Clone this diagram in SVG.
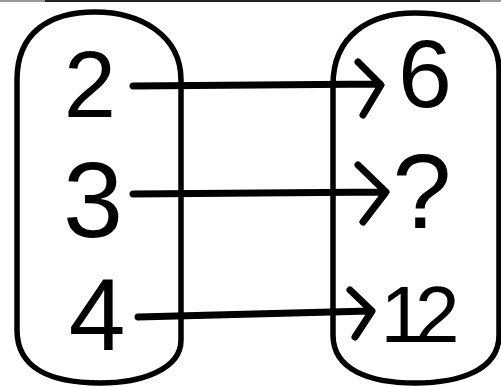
<svg xmlns="http://www.w3.org/2000/svg" width="501" height="387" viewBox="0 0 501 387">
<style>
.oval{fill:none;stroke:#000;stroke-width:5.5;stroke-linejoin:round}
.arr{fill:none;stroke:#000;stroke-width:7;stroke-linecap:round;stroke-linejoin:round}
.num{font-family:"Liberation Sans",Arial,sans-serif;fill:#000;text-anchor:middle}
</style>
<rect x="0" y="0" width="501" height="387" fill="#fff"/>
<rect x="0" y="0" width="501" height="2" fill="#999"/>
<rect x="45" y="0" width="435" height="2" fill="#222"/>
<g id="domain">
<path class="oval" d="M17,330 L17,80 C17,32 50,12 95,12 C140,12 181,35 181,80 L181,340 C181,370 140,383 100,383 C50,383 17,368 17,330 Z"/>
<text class="num" x="90" y="117" font-size="94">2</text>
<text class="num" x="93" y="237" font-size="108">3</text>
<text class="num" x="97" y="350" font-size="102">4</text>
</g>
<g id="codomain">
<path class="oval" d="M333,335 L333,85 C333,35 370,13 415,13 C460,13 499,30 499,70 L499,335 C499,370 460,383 415,383 C370,383 333,370 333,335 Z"/>
<text class="num" x="425" y="107" font-size="97">6</text>
<text class="num" x="422" y="228" font-size="106">?</text>
<text class="num" x="415" y="342" font-size="80" letter-spacing="-10">12</text>
</g>
<g id="connectors">
<path class="arr" d="M133,86 L380,84 M358,62 L381,85 L363,115"/>
<path class="arr" d="M133,194 L385,192 M358,165 L386,192 L363,222"/>
<path class="arr" d="M138,317 L370,311 M350,290 L372,311 L355,337"/>
</g>
</svg>
